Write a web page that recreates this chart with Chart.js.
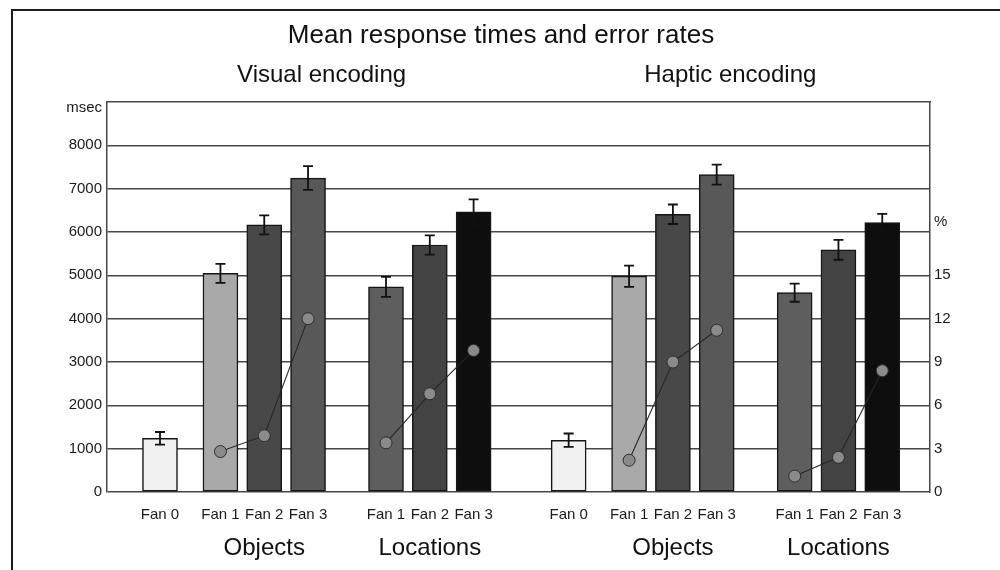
<!DOCTYPE html>
<html>
<head>
<meta charset="utf-8">
<title>Mean response times and error rates</title>
<script src="https://cdn.jsdelivr.net/npm/chart.js@4.4.1/dist/chart.umd.min.js"></script>
<style>
  html, body { margin: 0; padding: 0; background: #fff; }
  #wrap { position: relative; width: 1000px; height: 570px; overflow: hidden; }
  #frame {
    position: absolute; left: 11px; top: 9px; right: 0; bottom: 0;
    border-left: 2px solid #1c1c1c; border-top: 2px solid #1c1c1c;
    pointer-events: none;
  }
</style>
</head>
<body>
<div id="wrap">
  <canvas id="chart" width="1000" height="570"></canvas>
  <div id="frame"></div>
</div>
<script>
// ---- data -------------------------------------------------------------
const encodings = ['Visual encoding', 'Haptic encoding'];
const conditions = ['Objects', 'Locations'];
const baselineLabel = 'Fan 0';
const fanLabels = ['Fan 1', 'Fan 2', 'Fan 3'];

// mean response time (msec) and its error bar half-width
const baselineRT = [1240, 1195];
const baselineSE = [145, 155];

const visualObjectsRT = [5045, 6165, 7245];
const visualObjectsSE = [220, 220, 275];
const visualLocationsRT = [4735, 5700, 6465];
const visualLocationsSE = [230, 220, 290];

const hapticObjectsRT = [4980, 6410, 7325];
const hapticObjectsSE = [245, 225, 230];
const hapticLocationsRT = [4600, 5590, 6220];
const hapticLocationsSE = [210, 230, 200];

// error rates (%)
const visualObjectsErr = [2.8, 3.9, 12.0];
const visualLocationsErr = [3.4, 6.8, 9.8];
const hapticObjectsErr = [2.2, 9.0, 11.2];
const hapticLocationsErr = [1.1, 2.4, 8.4];

// axis ticks
const rtTicks = [0, 1000, 2000, 3000, 4000, 5000, 6000, 7000, 8000];
const rtUnit = 'msec';
const errTicks = [0, 3, 6, 9, 12, 15];
const errUnit = '%';

// ---- layout of the bar slots along x (in bar-step units) ------------------
const LEAD = 1.21, FAN0_GAP = 1.38, COND_GAP = 1.78, ENC_GAP = 2.17, X_MAX = 18.79;
const UNIT_LABEL_RT = 8860, UNIT_LABEL_ERR = 18.7;

const baselineColor = '#f1f1f1';
const fanColors = {
  Objects: ['#a9a9a9', '#484848', '#585858'],
  Locations: ['#5e5e5e', '#434343', '#0e0e0e']
};

const rtByCell = {
  'Visual encoding': { Objects: [visualObjectsRT, visualObjectsSE, visualObjectsErr],
                       Locations: [visualLocationsRT, visualLocationsSE, visualLocationsErr] },
  'Haptic encoding': { Objects: [hapticObjectsRT, hapticObjectsSE, hapticObjectsErr],
                       Locations: [hapticLocationsRT, hapticLocationsSE, hapticLocationsErr] }
};

const bars = [];          // {x, y, se, label, color}
const errorLines = [];    // one polyline per encoding x condition
const groupTicks = [];    // {x, label}
const encodingTicks = []; // {x, label}

let pos = LEAD;
encodings.forEach((enc, e) => {
  const encStart = pos;
  bars.push({ x: pos, y: baselineRT[e], se: baselineSE[e], label: baselineLabel, color: baselineColor });
  pos += FAN0_GAP;
  conditions.forEach((cond, c) => {
    const [rt, se, err] = rtByCell[enc][cond];
    const pts = [];
    fanLabels.forEach((fl, f) => {
      bars.push({ x: pos + f, y: rt[f], se: se[f], label: fl, color: fanColors[cond][f] });
      pts.push({ x: pos + f, y: err[f] });
    });
    errorLines.push(pts);
    groupTicks.push({ x: pos + 1, label: cond });
    pos += 2 + (c === 0 ? COND_GAP : ENC_GAP);
  });
  const encEnd = pos - ENC_GAP;
  encodingTicks.push({ x: (encStart + encEnd) / 2 + 0.11, label: enc });
});

// ---- error bars drawn right after the bar dataset -------------------------
const errorBarPlugin = {
  id: 'errorBars',
  afterDatasetDraw(chart, args) {
    if (args.index !== 0) return;
    const ys = chart.scales.y;
    const ctx = chart.ctx;
    ctx.save();
    ctx.strokeStyle = '#111111';
    ctx.lineWidth = 1.8;
    args.meta.data.forEach((bar, i) => {
      const b = bars[i];
      const top = ys.getPixelForValue(b.y + b.se);
      const bot = ys.getPixelForValue(b.y - b.se);
      const half = 5;
      ctx.beginPath();
      ctx.moveTo(bar.x, top); ctx.lineTo(bar.x, bot);
      ctx.moveTo(bar.x - half, top); ctx.lineTo(bar.x + half, top);
      ctx.moveTo(bar.x - half, bot); ctx.lineTo(bar.x + half, bot);
      ctx.stroke();
    });
    ctx.restore();
  }
};

Chart.defaults.font.family = "'Liberation Sans', Arial, Helvetica, sans-serif";
Chart.defaults.color = '#111111';

const gridColor = '#474747';

const datasets = [{
  type: 'bar',
  order: 2,
  data: bars.map(b => ({ x: b.x, y: b.y })),
  backgroundColor: bars.map(b => b.color),
  borderColor: '#151515',
  borderWidth: 1.5,
  borderSkipped: false,
  barThickness: 35,
  xAxisID: 'x',
  yAxisID: 'y'
}];
errorLines.forEach(pts => datasets.push({
  type: 'line',
  order: 1,
  data: pts,
  xAxisID: 'x',
  yAxisID: 'yErr',
  borderColor: '#262626',
  borderWidth: 1.1,
  pointRadius: 6,
  pointBackgroundColor: '#8a8a8a',
  pointBorderColor: '#2e2e2e',
  pointBorderWidth: 1,
  fill: false,
  tension: 0
}));

new Chart(document.getElementById('chart'), {
  type: 'bar',
  data: { datasets },
  plugins: [errorBarPlugin],
  options: {
    responsive: false,
    animation: false,
    events: [],
    layout: { padding: { left: 12, right: 10, top: 0, bottom: 0 } },
    plugins: {
      legend: { display: false },
      tooltip: { enabled: false },
      title: {
        display: true,
        text: 'Mean response times and error rates',
        color: '#111',
        font: { size: 26, weight: 'normal' },
        padding: { top: 20, bottom: 0 }
      }
    },
    scales: {
      x: {
        type: 'linear', position: 'bottom', weight: 0,
        min: 0, max: X_MAX, offset: false,
        grid: { display: false, drawTicks: false },
        border: { display: false },
        afterBuildTicks: s => { s.ticks = bars.map(b => ({ value: b.x })); },
        afterFit: s => { s.height = 36; },
        ticks: {
          autoSkip: false, maxRotation: 0, padding: 14,
          font: { size: 15 }, color: '#1a1a1a',
          callback: (v, i) => bars[i] ? bars[i].label : ''
        }
      },
      xGroup: {
        type: 'linear', position: 'bottom', weight: 1,
        min: 0, max: X_MAX, offset: false,
        grid: { display: false, drawTicks: false },
        border: { display: false },
        afterBuildTicks: s => { s.ticks = groupTicks.map(g => ({ value: g.x })); },
        afterFit: s => { s.height = 42; },
        ticks: {
          autoSkip: false, maxRotation: 0, padding: 6,
          font: { size: 24 }, color: '#111',
          callback: (v, i) => groupTicks[i] ? groupTicks[i].label : ''
        }
      },
      xTop: {
        type: 'linear', position: 'top',
        min: 0, max: X_MAX, offset: false,
        grid: { display: false, drawTicks: false },
        border: { display: true, color: gridColor, width: 1.5 },
        afterBuildTicks: s => { s.ticks = encodingTicks.map(g => ({ value: g.x })); },
        afterFit: s => { s.height = 50.8; },
        ticks: {
          autoSkip: false, maxRotation: 0, padding: 12,
          font: { size: 24 }, color: '#111',
          callback: (v, i) => encodingTicks[i] ? encodingTicks[i].label : ''
        }
      },
      y: {
        type: 'linear', position: 'left',
        min: 0, max: 9000,
        afterBuildTicks: s => { s.ticks = rtTicks.concat([UNIT_LABEL_RT]).map(v => ({ value: v })); },
        afterFit: s => { s.width = 95; },
        grid: {
          drawTicks: false,
          color: c => (c.tick && c.tick.value > 8000) ? 'rgba(0,0,0,0)' : gridColor,
          lineWidth: 1.5
        },
        border: { display: true, color: gridColor, width: 1.5 },
        ticks: {
          padding: 5, font: { size: 15 }, color: '#1a1a1a',
          callback: v => v > 8000 ? rtUnit : String(v)
        }
      },
      yErr: {
        type: 'linear', position: 'right',
        min: 0, max: 27,
        afterBuildTicks: s => { s.ticks = errTicks.concat([UNIT_LABEL_ERR]).map(v => ({ value: v })); },
        afterFit: s => { s.width = 60; },
        grid: { display: false, drawTicks: false },
        border: { display: true, color: gridColor, width: 1.5 },
        ticks: {
          padding: 4, font: { size: 15 }, color: '#1a1a1a',
          callback: v => v > 15 ? errUnit : String(v)
        }
      }
    }
  }
});
</script>
</body>
</html>
